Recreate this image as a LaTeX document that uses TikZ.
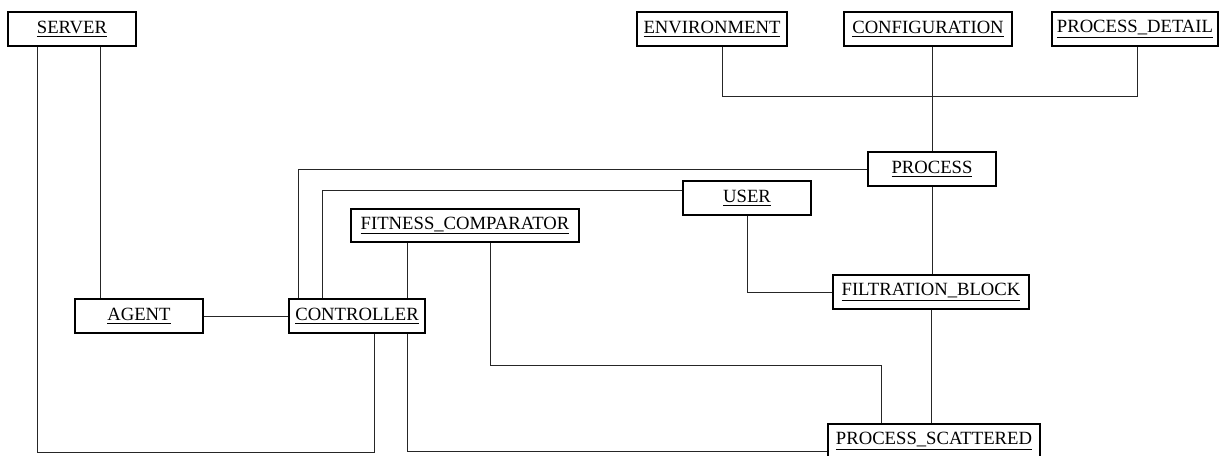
\documentclass[tikz,border=0pt]{standalone}
\usepackage{fontspec}
\setmainfont{Liberation Serif}
\begin{document}
\begin{tikzpicture}[x=0.75pt,y=-0.75pt,
  entity/.style={draw=black,line width=1.1pt,rectangle,inner sep=0pt,
    minimum height=34*0.75pt,font=\fontsize{14}{16}\selectfont,text=black},
  link/.style={draw=black!85,line width=0.75pt}]
\useasboundingbox (0,0) rectangle (1221,455);

% entities
\node[entity,minimum width=128*0.75pt] (server) at (72,29) {\underline{SERVER}};
\node[entity,minimum width=150*0.75pt] (env) at (712,29) {\underline{ENVIRONMENT}};
\node[entity,minimum width=168*0.75pt] (conf) at (928,29) {\underline{CONFIGURATION}};
\node[entity,minimum width=166*0.75pt] (pdetail) at (1135,29) {\underline{PROCESS\_DETAIL}};
\node[entity,minimum width=128*0.75pt] (process) at (932,169) {\underline{PROCESS}};
\node[entity,minimum width=128*0.75pt] (user) at (747,198) {\underline{USER}};
\node[entity,minimum width=228*0.75pt,minimum height=33*0.75pt] (fc) at (465,225.5) {\underline{FITNESS\_COMPARATOR}};
\node[entity,minimum width=128*0.75pt] (agent) at (139,316) {\underline{AGENT}};
\node[entity,minimum width=136*0.75pt] (controller) at (357,316) {\underline{CONTROLLER}};
\node[entity,minimum width=196*0.75pt] (fb) at (931,292) {\underline{FILTRATION\_BLOCK}};
\node[entity,minimum width=212*0.75pt] (ps) at (934,441) {\underline{PROCESS\_SCATTERED}};

% routing points
\coordinate (sa) at (100,0);
\coordinate (sx) at (37,0);
\coordinate (sc) at (374,452);
\coordinate (cp) at (298,0);
\coordinate (cu) at (322,190);
\coordinate (fcx) at (407,0);
\coordinate (fx) at (490,0);
\coordinate (fp) at (881,365);
\coordinate (cs) at (407,451);
\coordinate (ex) at (722,0);
\coordinate (bus) at (1137,96);

% connectors
\draw[link] (server.south -| sa) -- (agent.north -| sa);
\draw[link] (server.south -| sx) |- (sc) -- (controller.south -| sc);
\draw[link] (agent.east) -- (controller.west);
\draw[link] (controller.north -| cp) |- (process.west);
\draw[link] (controller.north -| cu) |- (user.west |- cu);
\draw[link] (fc.south -| fcx) -- (controller.north -| fcx);
\draw[link] (fc.south -| fx) |- (fp) -- (ps.north -| fp);
\draw[link] (controller.south -| cs) |- (ps.west |- cs);
\draw[link] (user.south) |- (fb.west);
\draw[link] (process.south) -- (process.south |- fb.north);
\draw[link] (fb.south) -- (fb.south |- ps.north);
\draw[link] (env.south -| ex) |- (bus) -- (pdetail.south -| bus);
\draw[link] (conf.south -| process.north) -- (process.north);
\end{tikzpicture}
\end{document}
